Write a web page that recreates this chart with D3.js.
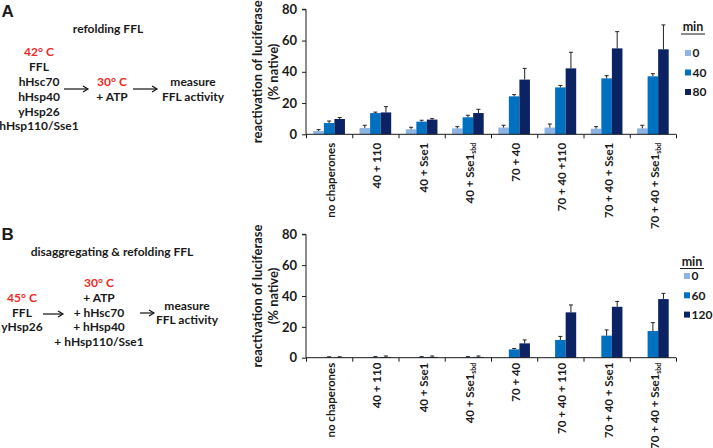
<!DOCTYPE html>
<html><head><meta charset="utf-8">
<script src="https://cdn.jsdelivr.net/npm/d3@7"></script>
<style>
body{margin:0;background:#fff;}
svg text{font-family:Lato,"Open Sans",sans-serif;font-weight:bold;fill:#1a1a1a;}
</style></head>
<body><svg id="c" width="713" height="448"></svg>
<script>
const categoriesA = ["no chaperones","40 + 110","40 + Sse1","40 + Sse1|sbd","70 + 40","70 + 40 +110","70 + 40 + Sse1","70 + 40 + Sse1|sbd"];
const categoriesB = ["no chaperones","40 + 110","40 + Sse1","40 + Sse1|sbd","70 + 40","70 + 40 + 110","70 + 40 + Sse1","70 + 40 + Sse1|sbd"];
const seriesNamesA = ["0","40","80"];
const seriesNamesB = ["0","60","120"];
const a0 = [2.1, 4.0, 3.2, 3.8, 4.3, 4.3, 3.6, 3.8];
const a0err = [0.9, 1.8, 1.3, 1.1, 1.5, 2.3, 1.3, 2.0];
const a40 = [7.2, 13.6, 8.1, 10.9, 24.3, 30.0, 35.8, 37.1];
const a40err = [1.3, 0.6, 0.9, 1.3, 1.1, 1.3, 1.7, 1.7];
const a80 = [9.8, 14.0, 9.4, 13.6, 35.0, 42.2, 55.0, 54.4];
const a80err = [0.9, 3.7, 0.6, 2.4, 7.2, 10.3, 10.7, 15.6];
const b0 = [0, 0, 0, 0, 0, 0, 0, 0];
const b0err = [0, 0, 0, 0, 0, 0, 0, 0];
const b60 = [0.2, 0.3, 0.3, 0.3, 5.4, 11.5, 14.3, 17.3];
const b60err = [0.4, 0.4, 0.4, 0.4, 0.6, 2.3, 3.7, 5.4];
const b120 = [0.2, 0.5, 0.5, 0.5, 9.3, 29.4, 33.0, 38.0];
const b120err = [0.4, 0.6, 0.6, 0.6, 2.2, 4.8, 3.5, 3.7];
const yTicks = [0, 20, 40, 60, 80];
const colors = ["#8db4e2", "#0070c0", "#0b2363"];

const svg = d3.select("#c");
const ink = "#1a1a1a";

function chart(cfg){
  const g = svg.append("g");
  const x = d3.scaleBand().domain(d3.range(cfg.cats.length)).range([cfg.x0, cfg.x1]).paddingInner(0).paddingOuter(0);
  const xs = d3.scaleBand().domain([0,1,2]).range([7.3, x.bandwidth()-7.3]);
  const y = d3.scaleLinear().domain([0,80]).range([cfg.yb, cfg.yt]);
  cfg.series.forEach((s, si) => {
    g.selectAll(null).data(s.v).enter().append("rect")
      .attr("x", (d,i) => x(i) + xs(si))
      .attr("width", xs.bandwidth())
      .attr("y", d => y(d))
      .attr("height", d => y(0) - y(d))
      .attr("fill", colors[si]);
    s.v.forEach((d,i) => {
      const e = s.e[i]; if (!e) return;
      const cx = x(i) + xs(si) + xs.bandwidth()/2;
      g.append("line").attr("x1",cx).attr("x2",cx).attr("y1",y(d)).attr("y2",y(d+e)).attr("stroke","#222").attr("stroke-width",1);
      g.append("line").attr("x1",cx-2).attr("x2",cx+2).attr("y1",y(d+e)).attr("y2",y(d+e)).attr("stroke","#222").attr("stroke-width",1);
    });
  });
  const ya = g.append("g").attr("transform",`translate(${cfg.x0},0)`)
    .call(d3.axisLeft(y).tickValues(yTicks).tickSize(4).tickPadding(5));
  ya.select(".domain").attr("stroke",ink).attr("d",`M-4,${cfg.yt}H0V${cfg.yb}`);
  ya.selectAll(".tick line").attr("stroke",ink);
  ya.selectAll("text").style("font-size","13px").attr("fill",ink);
  const xa = g.append("g").attr("transform",`translate(0,${cfg.yb})`)
    .call(d3.axisBottom(d3.scaleLinear().domain([0,cfg.cats.length]).range([cfg.x0,cfg.x1]))
      .tickValues(d3.range(cfg.cats.length+1)).tickSize(4).tickFormat(""));
  xa.select(".domain").attr("stroke",ink).attr("d",`M${cfg.x0},0H${cfg.x1}`);
  xa.selectAll(".tick line").attr("stroke",ink);
  cfg.cats.forEach((c,i) => {
    const cx = x(i) + x.bandwidth()/2 + 2;
    const t = g.append("text").attr("transform",`translate(${cx},${cfg.yb+cfg.labOff}) rotate(-90)`)
      .attr("text-anchor","end").attr("dy","0.35em").style("font-size","11.5px");
    const parts = c.split("|");
    t.append("tspan").text(parts[0]);
    if (parts[1]) t.append("tspan").text(parts[1]).style("font-size","7px").attr("dy","2");
  });
  const ym = (cfg.yt + cfg.yb)/2;
  g.append("text").attr("transform",`translate(${cfg.x0-49},${ym}) rotate(-90)`).attr("text-anchor","middle").attr("dy","0.35em").style("font-size","13px").text("reactivation of luciferase");
  g.append("text").attr("transform",`translate(${cfg.x0-33},${ym}) rotate(-90)`).attr("text-anchor","middle").attr("dy","0.35em").style("font-size","13px").text("(% native)");
  const L = cfg.legend;
  g.append("text").attr("x",L.x+12).attr("y",L.y).attr("text-anchor","middle").style("font-size","12.5px").text("min");
  g.append("line").attr("x1",L.x).attr("x2",L.x+24).attr("y1",L.y+3).attr("y2",L.y+3).attr("stroke",ink);
  cfg.names.forEach((n,i) => {
    const yy = L.y0 + i*L.dy;
    g.append("rect").attr("x",L.x+4).attr("y",yy-3).attr("width",6).attr("height",6).attr("fill",colors[i]);
    g.append("text").attr("x",L.x+11.5).attr("y",yy).attr("dy","0.35em").style("font-size","12px").text(n);
  });
}

chart({cats:categoriesA, names:seriesNamesA, x0:306, x1:676, yt:9.3, yb:134.3, labOff:8.5,
  series:[{v:a0,e:a0err},{v:a40,e:a40err},{v:a80,e:a80err}],
  legend:{x:681, y:31, y0:53, dy:19.5}});
chart({cats:categoriesB, names:seriesNamesB, x0:306, x1:676, yt:234.3, yb:357.7, labOff:5,
  series:[{v:b0,e:b0err},{v:b60,e:b60err},{v:b120,e:b120err}],
  legend:{x:680, y:265.5, y0:276, dy:19.3}});

function txt(x,y,s,opt={}){
  svg.append("text").attr("x",x).attr("y",y).attr("text-anchor",opt.anchor||"middle")
    .attr("dy","0.35em").style("font-size",(opt.size||12)+"px").style("fill",opt.color||ink)
    .style("font-family",opt.family||null).text(s);
}
function arrow(x1,x2,y){
  svg.append("line").attr("x1",x1).attr("x2",x2-1).attr("y1",y).attr("y2",y).attr("stroke","#111").attr("stroke-width",1.2);
  svg.append("path").attr("d",`M${x2-5},${y-3}L${x2},${y}L${x2-5},${y+3}`).attr("fill","none").attr("stroke","#111").attr("stroke-width",1.2);
}
const red = "#ee2a24";
txt(1.5,11,"A",{anchor:"start",size:17,family:"Liberation Sans, Arial, sans-serif"});
txt(108,29,"refolding FFL");
txt(39,52,"42° C",{color:red});
["FFL","hHsc70","hHsp40","yHsp26","hHsp110/Sse1"].forEach((s,i)=>txt(39,67+i*14.8,s));
arrow(64,88,89);
txt(112,82,"30° C",{color:red});
txt(112,97,"+ ATP");
arrow(133,157,89);
txt(193,82,"measure");
txt(193,97,"FFL activity");

txt(1.5,234,"B",{anchor:"start",size:17,family:"Liberation Sans, Arial, sans-serif"});
txt(112,252,"disaggregating & refolding FFL");
txt(99,283,"30° C",{color:red});
["+ ATP","+ hHsc70","+ hHsp40","+ hHsp110/Sse1"].forEach((s,i)=>txt(99,298+i*14.5,s));
txt(22,298,"45° C",{color:red});
txt(22,313,"FFL");
txt(22,327,"yHsp26");
arrow(43,63,314);
arrow(140,154,313);
txt(187,306,"measure");
txt(187,320,"FFL activity");
</script></body></html>
